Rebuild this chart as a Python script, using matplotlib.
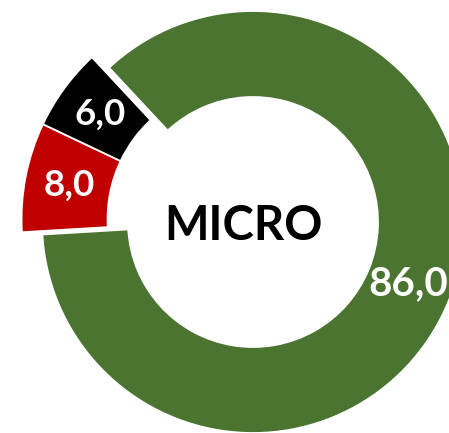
import matplotlib
matplotlib.use("Agg")
import matplotlib.pyplot as plt

# ── Data ──────────────────────────────────────────────────────────────────────
segment_names  = ["Green", "Red", "Black"]
segment_values = [86.0, 8.0, 6.0]
center_label   = "MICRO"

COLORS   = ["#4B7431", "#C00000", "#000000"]
EXPLODED = [False, True, True]

plt.rcParams["font.family"] = ["Lato", "DejaVu Sans"]

# ── Layout (pixels -> data units, ring outer radius = 211 px) ────────────────
W, H, DPI = 449, 433, 100
R_PX = 211.0
CX, CY = 253.0, 222.0

fig = plt.figure(figsize=(W / DPI, H / DPI), dpi=DPI)
ax = fig.add_axes([0, 0, 1, 1])

fmt = lambda p: f"{p:.1f}".replace(".", ",")
ring_width = 86 / R_PX

# main ring (green only)
wedges, _, autotexts = ax.pie(
    segment_values, colors=COLORS, startangle=133, counterclock=False,
    radius=1.0, autopct=fmt, pctdistance=0.79,
    wedgeprops=dict(width=ring_width, edgecolor="white", linewidth=1.3),
    textprops=dict(color="white", fontweight="bold", fontsize=29),
)
for w, t, ex in zip(wedges, autotexts, EXPLODED):
    if ex:
        w.set_visible(False)
        t.set_visible(False)

# exploded pieces (red + black), pushed outwards
wedges2, _, autotexts2 = ax.pie(
    segment_values, colors=COLORS, startangle=133, counterclock=False,
    radius=1.049, center=(-0.048, 0.0137), autopct=fmt, pctdistance=0.80,
    wedgeprops=dict(width=ring_width, edgecolor="white", linewidth=1.3),
    textprops=dict(color="white", fontweight="bold", fontsize=26.5),
)
for w, t, ex in zip(wedges2, autotexts2, EXPLODED):
    if not ex:
        w.set_visible(False)
        t.set_visible(False)

ax.text(-0.047, -0.019, center_label, ha="center", va="center",
        fontsize=34, fontweight="bold", color="black")

ax.set_xlim(-CX / R_PX, (W - CX) / R_PX)
ax.set_ylim(-(H - CY) / R_PX, CY / R_PX)
ax.set_aspect("equal")
ax.axis("off")

fig.savefig("out.png", dpi=DPI)
